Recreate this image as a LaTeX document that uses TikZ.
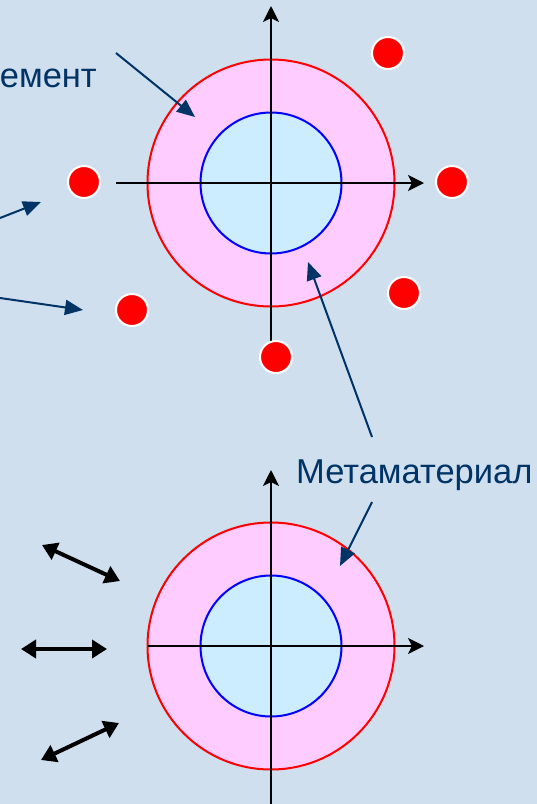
\documentclass[tikz,border=0pt]{standalone}
\usepackage{fontspec}
\setmainfont{Liberation Sans}
\usetikzlibrary{arrows.meta}
\definecolor{bg}{RGB}{207,223,238}
\definecolor{ring}{RGB}{255,204,255}
\definecolor{core}{RGB}{204,236,255}
\definecolor{lbl}{RGB}{0,51,102}
\begin{document}
\begin{tikzpicture}[x=1pt,y=-1pt,
 axis/.style={line width=1.8pt, -{Stealth[length=16pt,width=16pt,inset=4pt]}},
 ptr/.style={draw=lbl, fill=lbl, line width=2pt, -{Triangle[length=18pt,width=15pt]}},
 pol/.style={line width=4pt, {Triangle[length=15pt,width=18pt]}-{Triangle[length=15pt,width=18pt]}},
 dot/.style={circle, fill=red, draw=white, line width=2pt, minimum size=32pt, inner sep=0pt},
 outer/.style={circle, fill=ring, draw=red, line width=2pt, minimum size=247pt, inner sep=0pt},
 inner/.style={circle, fill=core, draw=blue, line width=2pt, minimum size=141pt, inner sep=0pt},
 txt/.style={text=lbl, font=\fontsize{34.5}{42}\selectfont, inner sep=0pt}]
\fill[bg] (0,0) rectangle (537,804);
\useasboundingbox (0,0) rectangle (537,804);
% top diagram
\node[outer] (o1) at (271,183) {};
\node[inner] (i1) at (271,183) {};
\coordinate (h1s) at (116,183); \coordinate (h1e) at (424,183);
\coordinate (v1s) at (271,345); \coordinate (v1e) at (271,6);
\draw[axis] (h1s) -- (h1e);
\draw[axis] (v1s) -- (v1e);
\node[dot] (d1) at (84,182) {};
\node[dot] (d2) at (132,310) {};
\node[dot] (d3) at (388,53) {};
\node[dot] (d4) at (452,182) {};
\node[dot] (d5) at (404,293) {};
\node[dot] (d6) at (276,357) {};
\node[txt, anchor=base east] (el) at (97,87) {емент};
\node[txt, anchor=base west] (mm) at (296,483) {Метаматериал};
\coordinate (a1s) at (116,53); \coordinate (a1e) at (195,117);
\coordinate (a2s) at (0,218); \coordinate (a2e) at (41,202);
\coordinate (a3s) at (0,298); \coordinate (a3e) at (83,310);
\coordinate (a4s) at (372,437); \coordinate (a4e) at (308,262);
\coordinate (a5s) at (372,502); \coordinate (a5e) at (340,566);
\draw[ptr] (a1s) -- (a1e);
\draw[ptr] (a2s) -- (a2e);
\draw[ptr] (a3s) -- (a3e);
\draw[ptr] (a4s) -- (a4e);
% bottom diagram
\node[outer] (o2) at (271,646) {};
\node[inner] (i2) at (271,646) {};
\coordinate (h2s) at (148,646); \coordinate (h2e) at (424,646);
\coordinate (v2s) at (271,806); \coordinate (v2e) at (271,470);
\draw[axis] (h2s) -- (h2e);
\draw[axis] (v2s) -- (v2e);
\draw[ptr] (a5s) -- (a5e);
\coordinate (p1s) at (42,545); \coordinate (p1e) at (120,581);
\coordinate (p2s) at (21,649); \coordinate (p2e) at (107,649);
\coordinate (p3s) at (41,760); \coordinate (p3e) at (119,723);
\draw[pol] (p1s) -- (p1e);
\draw[pol] (p2s) -- (p2e);
\draw[pol] (p3s) -- (p3e);
\end{tikzpicture}
\end{document}
